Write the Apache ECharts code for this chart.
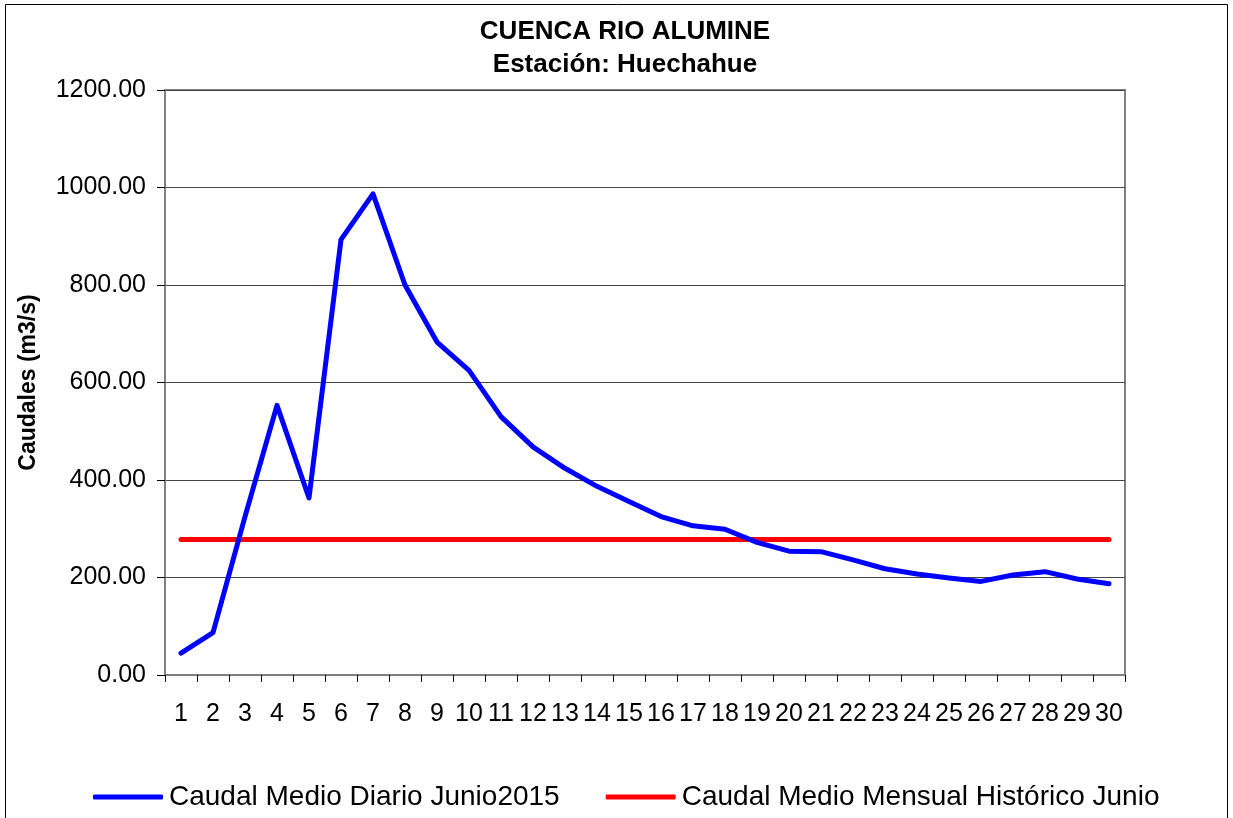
<!DOCTYPE html>
<html>
<head>
<meta charset="utf-8">
<script src="https://cdn.jsdelivr.net/npm/echarts@6/dist/echarts.min.js"></script>
<style>
    html, body { margin: 0; padding: 0; background: #fff; }
    #chart { width: 1233px; height: 818px; }
</style>
</head>
<body>
<div id="chart"></div>
<script>
    // dias del mes
    var dias = ['1','2','3','4','5','6','7','8','9','10','11','12','13','14','15',
                '16','17','18','19','20','21','22','23','24','25','26','27','28','29','30'];
    // Caudal Medio Diario Junio2015 (m3/s)
    var caudalDiario = [45, 87, 325, 553, 363, 893, 987, 800, 683, 625, 530, 468, 424, 387, 356,
                        325, 306, 299, 272, 254, 253, 236, 218, 207, 199, 192, 205, 212, 197, 187];
    // Caudal Medio Mensual Historico Junio (m3/s)
    var caudalHistorico = [278, 278, 278, 278, 278, 278, 278, 278, 278, 278, 278, 278, 278, 278, 278,
                           278, 278, 278, 278, 278, 278, 278, 278, 278, 278, 278, 278, 278, 278, 278];
    var yTicks = [0, 200, 400, 600, 800, 1000, 1200];

    var fuente = "'Liberation Sans', Arial, sans-serif";

    var chart = echarts.init(document.getElementById('chart'));
    var option = {
        animation: false,
        textStyle: { fontFamily: fuente, color: '#000' },
        graphic: [
            {
                type: 'rect',
                silent: true,
                shape: { x: 5.5, y: 4.5, width: 1222, height: 816 },
                style: { fill: 'none', stroke: '#000', lineWidth: 1 }
            },
            {
                type: 'text',
                x: 625, y: 32,
                style: { text: 'CUENCA RIO ALUMINE', font: 'bold 26px ' + fuente, fill: '#000',
                         textAlign: 'center', textVerticalAlign: 'middle' }
            },
            {
                type: 'text',
                x: 625, y: 65,
                style: { text: 'Estación: Huechahue', font: 'bold 26px ' + fuente, fill: '#000',
                         textAlign: 'center', textVerticalAlign: 'middle' }
            }
        ],
        legend: {
            left: 88,
            top: 778,
            itemWidth: 70,
            itemHeight: 5,
            itemGap: 46,
            icon: 'roundRect',
            textStyle: { fontSize: 28, fontFamily: fuente, color: '#000', padding: [0, 0, 0, 1] },
            data: ['Caudal Medio Diario Junio2015', 'Caudal Medio Mensual Histórico Junio']
        },
        grid: {
            left: 165,
            right: 108,
            top: 90,
            bottom: 143,
            show: true,
            borderColor: '#808080',
            borderWidth: 2
        },
        xAxis: {
            type: 'category',
            data: dias,
            boundaryGap: true,
            axisLine: { lineStyle: { color: '#808080', width: 2 } },
            axisTick: { show: true, length: 7, lineStyle: { color: '#000' } },
            axisLabel: { interval: 0, fontSize: 25, margin: 27, color: '#000', fontFamily: fuente }
        },
        yAxis: {
            type: 'value',
            min: yTicks[0],
            max: yTicks[yTicks.length - 1],
            interval: 200,
            name: 'Caudales (m3/s)',
            nameLocation: 'middle',
            nameGap: 125,
            nameTextStyle: { fontSize: 23, fontWeight: 'bold', color: '#000', fontFamily: fuente },
            axisLine: { show: true, lineStyle: { color: '#808080', width: 2 } },
            axisTick: { show: true, length: 8, lineStyle: { color: '#000' } },
            splitLine: { lineStyle: { color: '#444', width: 1 } },
            axisLabel: {
                fontSize: 25, margin: 19, color: '#000', fontFamily: fuente,
                formatter: function (v) { return v.toFixed(2); }
            }
        },
        series: [
            {
                name: 'Caudal Medio Diario Junio2015',
                type: 'line',
                data: caudalDiario,
                symbol: 'none',
                itemStyle: { color: '#0000ff' },
                lineStyle: { color: '#0000ff', width: 5, cap: 'round', join: 'round' },
                z: 3
            },
            {
                name: 'Caudal Medio Mensual Histórico Junio',
                type: 'line',
                data: caudalHistorico,
                symbol: 'none',
                itemStyle: { color: '#ff0000' },
                lineStyle: { color: '#ff0000', width: 5, cap: 'round' },
                z: 2
            }
        ]
    };
    chart.setOption(option);
</script>
</body>
</html>
